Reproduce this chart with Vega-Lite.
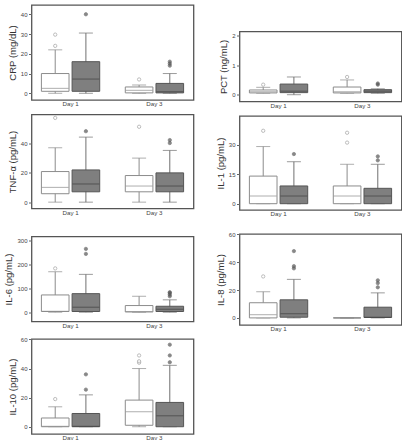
{"$schema":"https://vega.github.io/schema/vega-lite/v6.json",
"padding":{"left":2.5,"top":4,"right":0,"bottom":0},
"config":{"font":"Liberation Sans","view":{"stroke":"#555555","strokeWidth":1.3},
"axis":{"domain":false,"grid":false,"tickColor":"#666666","labelColor":"#444444","titleColor":"#333333","labelFontSize":6,"titleFontSize":9.5,"titleFontWeight":"normal","tickSize":3,"labelPadding":1.5,"titlePadding":3,"minExtent":0,"labelOverlap":false,"labelFlush":false},
"axisX":{"ticks":false,"labelFontSize":6.2,"labelPadding":0.5}},
"datasets":{
"box":[
{"panel":"CRP","day":"Day 1","grp":"A","lo":0,"q1":1,"med":2.5,"q3":10,"hi":22},
{"panel":"CRP","day":"Day 1","grp":"B","lo":0,"q1":1,"med":7.2,"q3":16,"hi":30.5},
{"panel":"CRP","day":"Day 3","grp":"A","lo":0,"q1":0.2,"med":1.5,"q3":3.2,"hi":4.2},
{"panel":"CRP","day":"Day 3","grp":"B","lo":0,"q1":0.2,"med":0.8,"q3":5,"hi":10},
{"panel":"PCT","day":"Day 1","grp":"A","lo":0.05,"q1":0.06,"med":0.1,"q3":0.16,"hi":0.25},
{"panel":"PCT","day":"Day 1","grp":"B","lo":0,"q1":0.07,"med":0.12,"q3":0.36,"hi":0.6},
{"panel":"PCT","day":"Day 3","grp":"A","lo":0.05,"q1":0.06,"med":0.1,"q3":0.26,"hi":0.5},
{"panel":"PCT","day":"Day 3","grp":"B","lo":0.05,"q1":0.07,"med":0.12,"q3":0.17,"hi":0.2},
{"panel":"TNF","day":"Day 1","grp":"A","lo":0,"q1":5.7,"med":10,"q3":20.7,"hi":36.8},
{"panel":"TNF","day":"Day 1","grp":"B","lo":0,"q1":7,"med":12.3,"q3":21.8,"hi":44},
{"panel":"TNF","day":"Day 3","grp":"A","lo":0,"q1":7,"med":10.9,"q3":18,"hi":29.8},
{"panel":"TNF","day":"Day 3","grp":"B","lo":0,"q1":7,"med":10.9,"q3":19.8,"hi":35},
{"panel":"IL1","day":"Day 1","grp":"A","lo":0,"q1":0,"med":3.9,"q3":14,"hi":29},
{"panel":"IL1","day":"Day 1","grp":"B","lo":0,"q1":0,"med":3.9,"q3":9,"hi":21.3},
{"panel":"IL1","day":"Day 3","grp":"A","lo":0,"q1":0,"med":3.9,"q3":9,"hi":20},
{"panel":"IL1","day":"Day 3","grp":"B","lo":0,"q1":0,"med":3.9,"q3":7.8,"hi":20},
{"panel":"IL6","day":"Day 1","grp":"A","lo":0,"q1":3,"med":4,"q3":72.5,"hi":170},
{"panel":"IL6","day":"Day 1","grp":"B","lo":0,"q1":3,"med":21,"q3":78,"hi":159},
{"panel":"IL6","day":"Day 3","grp":"A","lo":0,"q1":1,"med":3,"q3":28,"hi":67},
{"panel":"IL6","day":"Day 3","grp":"B","lo":0,"q1":3,"med":12.5,"q3":25,"hi":52},
{"panel":"IL8","day":"Day 1","grp":"A","lo":0,"q1":0,"med":2.3,"q3":10.9,"hi":18.8},
{"panel":"IL8","day":"Day 1","grp":"B","lo":0,"q1":0.5,"med":3,"q3":13,"hi":27.7},
{"panel":"IL8","day":"Day 3","grp":"A","lo":0,"q1":0,"med":0,"q3":0,"hi":0},
{"panel":"IL8","day":"Day 3","grp":"B","lo":0,"q1":0.3,"med":0.5,"q3":7.7,"hi":18},
{"panel":"IL10","day":"Day 1","grp":"A","lo":0,"q1":0,"med":0.3,"q3":6,"hi":13.7},
{"panel":"IL10","day":"Day 1","grp":"B","lo":0,"q1":0,"med":0.3,"q3":9.1,"hi":21.9},
{"panel":"IL10","day":"Day 3","grp":"A","lo":0,"q1":1,"med":10.3,"q3":18.3,"hi":40},
{"panel":"IL10","day":"Day 3","grp":"B","lo":0,"q1":0,"med":7.5,"q3":16.7,"hi":42.2}
],
"out":[
{"panel":"CRP","day":"Day 1","grp":"A","v":24},
{"panel":"CRP","day":"Day 1","grp":"A","v":29.7},
{"panel":"CRP","day":"Day 1","grp":"B","v":40},
{"panel":"CRP","day":"Day 3","grp":"A","v":7},
{"panel":"CRP","day":"Day 3","grp":"B","v":14},
{"panel":"CRP","day":"Day 3","grp":"B","v":15},
{"panel":"CRP","day":"Day 3","grp":"B","v":16},
{"panel":"PCT","day":"Day 1","grp":"A","v":0.34},
{"panel":"PCT","day":"Day 3","grp":"A","v":0.6},
{"panel":"PCT","day":"Day 3","grp":"B","v":0.34},
{"panel":"PCT","day":"Day 3","grp":"B","v":0.38},
{"panel":"TNF","day":"Day 1","grp":"A","v":57},
{"panel":"TNF","day":"Day 1","grp":"B","v":48},
{"panel":"TNF","day":"Day 3","grp":"A","v":51},
{"panel":"TNF","day":"Day 3","grp":"B","v":40},
{"panel":"TNF","day":"Day 3","grp":"B","v":42},
{"panel":"IL1","day":"Day 1","grp":"A","v":37},
{"panel":"IL1","day":"Day 1","grp":"B","v":25.2},
{"panel":"IL1","day":"Day 3","grp":"A","v":31},
{"panel":"IL1","day":"Day 3","grp":"A","v":36},
{"panel":"IL1","day":"Day 3","grp":"B","v":22},
{"panel":"IL1","day":"Day 3","grp":"B","v":24},
{"panel":"IL6","day":"Day 1","grp":"A","v":184},
{"panel":"IL6","day":"Day 1","grp":"B","v":245},
{"panel":"IL6","day":"Day 1","grp":"B","v":266},
{"panel":"IL6","day":"Day 3","grp":"B","v":67},
{"panel":"IL6","day":"Day 3","grp":"B","v":74},
{"panel":"IL6","day":"Day 3","grp":"B","v":81},
{"panel":"IL6","day":"Day 3","grp":"B","v":84},
{"panel":"IL8","day":"Day 1","grp":"A","v":29.8},
{"panel":"IL8","day":"Day 1","grp":"B","v":35.6},
{"panel":"IL8","day":"Day 1","grp":"B","v":37.2},
{"panel":"IL8","day":"Day 1","grp":"B","v":48},
{"panel":"IL8","day":"Day 3","grp":"B","v":22},
{"panel":"IL8","day":"Day 3","grp":"B","v":25},
{"panel":"IL8","day":"Day 3","grp":"B","v":27},
{"panel":"IL10","day":"Day 1","grp":"A","v":19},
{"panel":"IL10","day":"Day 1","grp":"B","v":25.5},
{"panel":"IL10","day":"Day 1","grp":"B","v":36},
{"panel":"IL10","day":"Day 3","grp":"A","v":44},
{"panel":"IL10","day":"Day 3","grp":"A","v":45},
{"panel":"IL10","day":"Day 3","grp":"A","v":49},
{"panel":"IL10","day":"Day 3","grp":"B","v":44.3},
{"panel":"IL10","day":"Day 3","grp":"B","v":49},
{"panel":"IL10","day":"Day 3","grp":"B","v":56.4}
]},
"spacing":20,
"hconcat":[
{"spacing":5.5,"vconcat":[
{"width":162,"height":95,"encoding":{"x":{"field":"day","type":"nominal","scale":{"domain":["Day 1","Day 3"],"paddingInner":0.305,"paddingOuter":0.118},"axis":{"title":null,"labelAngle":0}},"xOffset":{"field":"grp","type":"nominal","scale":{"domain":["A","B"],"paddingInner":0.1,"paddingOuter":0}}},
"layer":[
{"data":{"name":"box"},"transform":[{"filter":"datum.panel==='CRP'"}],"mark":{"type":"rule","strokeWidth":1},"encoding":{"y":{"field":"lo","type":"quantitative","title":"CRP (mg/dL)","scale":{"domain":[-3.4,44.7],"nice":false,"zero":false},"axis":{"values":[0,10,20,30,40]}},"y2":{"field":"hi"},"color":{"condition":{"test":"datum.grp==='A'","value":"#8c8c8c"},"value":"#707070"}}},
{"data":{"name":"box"},"transform":[{"filter":"datum.panel==='CRP'"},{"fold":["lo","hi"],"as":["k","cap"]}],"mark":{"type":"tick","size":14,"thickness":1},"encoding":{"y":{"field":"cap","type":"quantitative","title":"CRP (mg/dL)","axis":{"values":[0,10,20,30,40]}},"color":{"condition":{"test":"datum.grp==='A'","value":"#8c8c8c"},"value":"#707070"}}},
{"data":{"name":"box"},"transform":[{"filter":"datum.panel==='CRP'"}],"mark":{"type":"bar","strokeWidth":1},"encoding":{"y":{"field":"q1","type":"quantitative","title":"CRP (mg/dL)","axis":{"values":[0,10,20,30,40]}},"y2":{"field":"q3"},"fill":{"condition":{"test":"datum.grp==='A'","value":"#ffffff"},"value":"#7f7f7f"},"stroke":{"condition":{"test":"datum.grp==='A'","value":"#8c8c8c"},"value":"#555555"}}},
{"data":{"name":"box"},"transform":[{"filter":"datum.panel==='CRP'"}],"mark":{"type":"tick","size":27,"thickness":1},"encoding":{"y":{"field":"med","type":"quantitative","title":"CRP (mg/dL)","axis":{"values":[0,10,20,30,40]}},"color":{"condition":{"test":"datum.grp==='A'","value":"#8c8c8c"},"value":"#404040"}}},
{"data":{"name":"out"},"transform":[{"filter":"datum.panel==='CRP'"}],"mark":{"type":"point","shape":"circle","filled":true,"size":11,"strokeWidth":0.8},"encoding":{"y":{"field":"v","type":"quantitative","title":"CRP (mg/dL)","axis":{"values":[0,10,20,30,40]}},"fill":{"condition":{"test":"datum.grp==='A'","value":"#ffffff"},"value":"#555555"},"stroke":{"condition":{"test":"datum.grp==='A'","value":"#8c8c8c"},"value":"#555555"}}}
]},
{"width":162,"height":94,"encoding":{"x":{"field":"day","type":"nominal","scale":{"domain":["Day 1","Day 3"],"paddingInner":0.305,"paddingOuter":0.118},"axis":{"title":null,"labelAngle":0}},"xOffset":{"field":"grp","type":"nominal","scale":{"domain":["A","B"],"paddingInner":0.1,"paddingOuter":0}}},
"layer":[
{"data":{"name":"box"},"transform":[{"filter":"datum.panel==='TNF'"}],"mark":{"type":"rule","strokeWidth":1},"encoding":{"y":{"field":"lo","type":"quantitative","title":"TNF-α (pg/mL)","scale":{"domain":[-4.3,59.3],"nice":false,"zero":false},"axis":{"values":[0,20,40]}},"y2":{"field":"hi"},"color":{"condition":{"test":"datum.grp==='A'","value":"#8c8c8c"},"value":"#707070"}}},
{"data":{"name":"box"},"transform":[{"filter":"datum.panel==='TNF'"},{"fold":["lo","hi"],"as":["k","cap"]}],"mark":{"type":"tick","size":14,"thickness":1},"encoding":{"y":{"field":"cap","type":"quantitative","title":"TNF-α (pg/mL)","axis":{"values":[0,20,40]}},"color":{"condition":{"test":"datum.grp==='A'","value":"#8c8c8c"},"value":"#707070"}}},
{"data":{"name":"box"},"transform":[{"filter":"datum.panel==='TNF'"}],"mark":{"type":"bar","strokeWidth":1},"encoding":{"y":{"field":"q1","type":"quantitative","title":"TNF-α (pg/mL)","axis":{"values":[0,20,40]}},"y2":{"field":"q3"},"fill":{"condition":{"test":"datum.grp==='A'","value":"#ffffff"},"value":"#7f7f7f"},"stroke":{"condition":{"test":"datum.grp==='A'","value":"#8c8c8c"},"value":"#555555"}}},
{"data":{"name":"box"},"transform":[{"filter":"datum.panel==='TNF'"}],"mark":{"type":"tick","size":27,"thickness":1},"encoding":{"y":{"field":"med","type":"quantitative","title":"TNF-α (pg/mL)","axis":{"values":[0,20,40]}},"color":{"condition":{"test":"datum.grp==='A'","value":"#8c8c8c"},"value":"#404040"}}},
{"data":{"name":"out"},"transform":[{"filter":"datum.panel==='TNF'"}],"mark":{"type":"point","shape":"circle","filled":true,"size":11,"strokeWidth":0.8},"encoding":{"y":{"field":"v","type":"quantitative","title":"TNF-α (pg/mL)","axis":{"values":[0,20,40]}},"fill":{"condition":{"test":"datum.grp==='A'","value":"#ffffff"},"value":"#555555"},"stroke":{"condition":{"test":"datum.grp==='A'","value":"#8c8c8c"},"value":"#555555"}}}
]},
{"width":162,"height":8,"view":{"stroke":null},"data":{"values":[]},"mark":"point","encoding":{}},
{"width":162,"height":85,"encoding":{"x":{"field":"day","type":"nominal","scale":{"domain":["Day 1","Day 3"],"paddingInner":0.305,"paddingOuter":0.118},"axis":{"title":null,"labelAngle":0}},"xOffset":{"field":"grp","type":"nominal","scale":{"domain":["A","B"],"paddingInner":0.1,"paddingOuter":0}}},
"layer":[
{"data":{"name":"box"},"transform":[{"filter":"datum.panel==='IL6'"}],"mark":{"type":"rule","strokeWidth":1},"encoding":{"y":{"field":"lo","type":"quantitative","title":"IL-6 (pg/mL)","scale":{"domain":[-39,318],"nice":false,"zero":false},"axis":{"values":[0,100,200,300]}},"y2":{"field":"hi"},"color":{"condition":{"test":"datum.grp==='A'","value":"#8c8c8c"},"value":"#707070"}}},
{"data":{"name":"box"},"transform":[{"filter":"datum.panel==='IL6'"},{"fold":["lo","hi"],"as":["k","cap"]}],"mark":{"type":"tick","size":14,"thickness":1},"encoding":{"y":{"field":"cap","type":"quantitative","title":"IL-6 (pg/mL)","axis":{"values":[0,100,200,300]}},"color":{"condition":{"test":"datum.grp==='A'","value":"#8c8c8c"},"value":"#707070"}}},
{"data":{"name":"box"},"transform":[{"filter":"datum.panel==='IL6'"}],"mark":{"type":"bar","strokeWidth":1},"encoding":{"y":{"field":"q1","type":"quantitative","title":"IL-6 (pg/mL)","axis":{"values":[0,100,200,300]}},"y2":{"field":"q3"},"fill":{"condition":{"test":"datum.grp==='A'","value":"#ffffff"},"value":"#7f7f7f"},"stroke":{"condition":{"test":"datum.grp==='A'","value":"#8c8c8c"},"value":"#555555"}}},
{"data":{"name":"box"},"transform":[{"filter":"datum.panel==='IL6'"}],"mark":{"type":"tick","size":27,"thickness":1},"encoding":{"y":{"field":"med","type":"quantitative","title":"IL-6 (pg/mL)","axis":{"values":[0,100,200,300]}},"color":{"condition":{"test":"datum.grp==='A'","value":"#8c8c8c"},"value":"#404040"}}},
{"data":{"name":"out"},"transform":[{"filter":"datum.panel==='IL6'"}],"mark":{"type":"point","shape":"circle","filled":true,"size":11,"strokeWidth":0.8},"encoding":{"y":{"field":"v","type":"quantitative","title":"IL-6 (pg/mL)","axis":{"values":[0,100,200,300]}},"fill":{"condition":{"test":"datum.grp==='A'","value":"#ffffff"},"value":"#555555"},"stroke":{"condition":{"test":"datum.grp==='A'","value":"#8c8c8c"},"value":"#555555"}}}
]},
{"width":162,"height":95,"encoding":{"x":{"field":"day","type":"nominal","scale":{"domain":["Day 1","Day 3"],"paddingInner":0.305,"paddingOuter":0.118},"axis":{"title":null,"labelAngle":0}},"xOffset":{"field":"grp","type":"nominal","scale":{"domain":["A","B"],"paddingInner":0.1,"paddingOuter":0}}},
"layer":[
{"data":{"name":"box"},"transform":[{"filter":"datum.panel==='IL10'"}],"mark":{"type":"rule","strokeWidth":1},"encoding":{"y":{"field":"lo","type":"quantitative","title":"IL-10 (pg/mL)","scale":{"domain":[-5,60.3],"nice":false,"zero":false},"axis":{"values":[0,20,40,60]}},"y2":{"field":"hi"},"color":{"condition":{"test":"datum.grp==='A'","value":"#8c8c8c"},"value":"#707070"}}},
{"data":{"name":"box"},"transform":[{"filter":"datum.panel==='IL10'"},{"fold":["lo","hi"],"as":["k","cap"]}],"mark":{"type":"tick","size":14,"thickness":1},"encoding":{"y":{"field":"cap","type":"quantitative","title":"IL-10 (pg/mL)","axis":{"values":[0,20,40,60]}},"color":{"condition":{"test":"datum.grp==='A'","value":"#8c8c8c"},"value":"#707070"}}},
{"data":{"name":"box"},"transform":[{"filter":"datum.panel==='IL10'"}],"mark":{"type":"bar","strokeWidth":1},"encoding":{"y":{"field":"q1","type":"quantitative","title":"IL-10 (pg/mL)","axis":{"values":[0,20,40,60]}},"y2":{"field":"q3"},"fill":{"condition":{"test":"datum.grp==='A'","value":"#ffffff"},"value":"#7f7f7f"},"stroke":{"condition":{"test":"datum.grp==='A'","value":"#8c8c8c"},"value":"#555555"}}},
{"data":{"name":"box"},"transform":[{"filter":"datum.panel==='IL10'"}],"mark":{"type":"tick","size":27,"thickness":1},"encoding":{"y":{"field":"med","type":"quantitative","title":"IL-10 (pg/mL)","axis":{"values":[0,20,40,60]}},"color":{"condition":{"test":"datum.grp==='A'","value":"#8c8c8c"},"value":"#404040"}}},
{"data":{"name":"out"},"transform":[{"filter":"datum.panel==='IL10'"}],"mark":{"type":"point","shape":"circle","filled":true,"size":11,"strokeWidth":0.8},"encoding":{"y":{"field":"v","type":"quantitative","title":"IL-10 (pg/mL)","axis":{"values":[0,20,40,60]}},"fill":{"condition":{"test":"datum.grp==='A'","value":"#ffffff"},"value":"#555555"},"stroke":{"condition":{"test":"datum.grp==='A'","value":"#8c8c8c"},"value":"#555555"}}}
]}
]},
{"spacing":5.5,"vconcat":[
{"width":162,"height":20,"view":{"stroke":null},"data":{"values":[]},"mark":"point","encoding":{}},
{"width":162,"height":70,"encoding":{"x":{"field":"day","type":"nominal","scale":{"domain":["Day 1","Day 3"],"paddingInner":0.305,"paddingOuter":0.118},"axis":{"title":null,"labelAngle":0}},"xOffset":{"field":"grp","type":"nominal","scale":{"domain":["A","B"],"paddingInner":0.1,"paddingOuter":0}}},
"layer":[
{"data":{"name":"box"},"transform":[{"filter":"datum.panel==='PCT'"}],"mark":{"type":"rule","strokeWidth":1},"encoding":{"y":{"field":"lo","type":"quantitative","title":"PCT (ng/mL)","scale":{"domain":[-0.23,2.14],"nice":false,"zero":false},"axis":{"values":[0,1,2]}},"y2":{"field":"hi"},"color":{"condition":{"test":"datum.grp==='A'","value":"#8c8c8c"},"value":"#707070"}}},
{"data":{"name":"box"},"transform":[{"filter":"datum.panel==='PCT'"},{"fold":["lo","hi"],"as":["k","cap"]}],"mark":{"type":"tick","size":14,"thickness":1},"encoding":{"y":{"field":"cap","type":"quantitative","title":"PCT (ng/mL)","axis":{"values":[0,1,2]}},"color":{"condition":{"test":"datum.grp==='A'","value":"#8c8c8c"},"value":"#707070"}}},
{"data":{"name":"box"},"transform":[{"filter":"datum.panel==='PCT'"}],"mark":{"type":"bar","strokeWidth":1},"encoding":{"y":{"field":"q1","type":"quantitative","title":"PCT (ng/mL)","axis":{"values":[0,1,2]}},"y2":{"field":"q3"},"fill":{"condition":{"test":"datum.grp==='A'","value":"#ffffff"},"value":"#7f7f7f"},"stroke":{"condition":{"test":"datum.grp==='A'","value":"#8c8c8c"},"value":"#555555"}}},
{"data":{"name":"box"},"transform":[{"filter":"datum.panel==='PCT'"}],"mark":{"type":"tick","size":27,"thickness":1},"encoding":{"y":{"field":"med","type":"quantitative","title":"PCT (ng/mL)","axis":{"values":[0,1,2]}},"color":{"condition":{"test":"datum.grp==='A'","value":"#8c8c8c"},"value":"#404040"}}},
{"data":{"name":"out"},"transform":[{"filter":"datum.panel==='PCT'"}],"mark":{"type":"point","shape":"circle","filled":true,"size":11,"strokeWidth":0.8},"encoding":{"y":{"field":"v","type":"quantitative","title":"PCT (ng/mL)","axis":{"values":[0,1,2]}},"fill":{"condition":{"test":"datum.grp==='A'","value":"#ffffff"},"value":"#555555"},"stroke":{"condition":{"test":"datum.grp==='A'","value":"#8c8c8c"},"value":"#555555"}}}
]},
{"width":162,"height":94,"encoding":{"x":{"field":"day","type":"nominal","scale":{"domain":["Day 1","Day 3"],"paddingInner":0.305,"paddingOuter":0.118},"axis":{"title":null,"labelAngle":0}},"xOffset":{"field":"grp","type":"nominal","scale":{"domain":["A","B"],"paddingInner":0.1,"paddingOuter":0}}},
"layer":[
{"data":{"name":"box"},"transform":[{"filter":"datum.panel==='IL1'"}],"mark":{"type":"rule","strokeWidth":1},"encoding":{"y":{"field":"lo","type":"quantitative","title":"IL-1 (pg/mL)","scale":{"domain":[-3.2,44.5],"nice":false,"zero":false},"axis":{"values":[0,15,30]}},"y2":{"field":"hi"},"color":{"condition":{"test":"datum.grp==='A'","value":"#8c8c8c"},"value":"#707070"}}},
{"data":{"name":"box"},"transform":[{"filter":"datum.panel==='IL1'"},{"fold":["lo","hi"],"as":["k","cap"]}],"mark":{"type":"tick","size":14,"thickness":1},"encoding":{"y":{"field":"cap","type":"quantitative","title":"IL-1 (pg/mL)","axis":{"values":[0,15,30]}},"color":{"condition":{"test":"datum.grp==='A'","value":"#8c8c8c"},"value":"#707070"}}},
{"data":{"name":"box"},"transform":[{"filter":"datum.panel==='IL1'"}],"mark":{"type":"bar","strokeWidth":1},"encoding":{"y":{"field":"q1","type":"quantitative","title":"IL-1 (pg/mL)","axis":{"values":[0,15,30]}},"y2":{"field":"q3"},"fill":{"condition":{"test":"datum.grp==='A'","value":"#ffffff"},"value":"#7f7f7f"},"stroke":{"condition":{"test":"datum.grp==='A'","value":"#8c8c8c"},"value":"#555555"}}},
{"data":{"name":"box"},"transform":[{"filter":"datum.panel==='IL1'"}],"mark":{"type":"tick","size":27,"thickness":1},"encoding":{"y":{"field":"med","type":"quantitative","title":"IL-1 (pg/mL)","axis":{"values":[0,15,30]}},"color":{"condition":{"test":"datum.grp==='A'","value":"#8c8c8c"},"value":"#404040"}}},
{"data":{"name":"out"},"transform":[{"filter":"datum.panel==='IL1'"}],"mark":{"type":"point","shape":"circle","filled":true,"size":11,"strokeWidth":0.8},"encoding":{"y":{"field":"v","type":"quantitative","title":"IL-1 (pg/mL)","axis":{"values":[0,15,30]}},"fill":{"condition":{"test":"datum.grp==='A'","value":"#ffffff"},"value":"#555555"},"stroke":{"condition":{"test":"datum.grp==='A'","value":"#8c8c8c"},"value":"#555555"}}}
]},
{"width":162,"height":0.5,"view":{"stroke":null},"data":{"values":[]},"mark":"point","encoding":{}},
{"width":162,"height":91,"encoding":{"x":{"field":"day","type":"nominal","scale":{"domain":["Day 1","Day 3"],"paddingInner":0.305,"paddingOuter":0.118},"axis":{"title":null,"labelAngle":0}},"xOffset":{"field":"grp","type":"nominal","scale":{"domain":["A","B"],"paddingInner":0.1,"paddingOuter":0}}},
"layer":[
{"data":{"name":"box"},"transform":[{"filter":"datum.panel==='IL8'"}],"mark":{"type":"rule","strokeWidth":1},"encoding":{"y":{"field":"lo","type":"quantitative","title":"IL-8 (pg/mL)","scale":{"domain":[-5.1,60.3],"nice":false,"zero":false},"axis":{"values":[0,20,40,60]}},"y2":{"field":"hi"},"color":{"condition":{"test":"datum.grp==='A'","value":"#8c8c8c"},"value":"#707070"}}},
{"data":{"name":"box"},"transform":[{"filter":"datum.panel==='IL8'"},{"fold":["lo","hi"],"as":["k","cap"]}],"mark":{"type":"tick","size":14,"thickness":1},"encoding":{"y":{"field":"cap","type":"quantitative","title":"IL-8 (pg/mL)","axis":{"values":[0,20,40,60]}},"color":{"condition":{"test":"datum.grp==='A'","value":"#8c8c8c"},"value":"#707070"}}},
{"data":{"name":"box"},"transform":[{"filter":"datum.panel==='IL8'"}],"mark":{"type":"bar","strokeWidth":1},"encoding":{"y":{"field":"q1","type":"quantitative","title":"IL-8 (pg/mL)","axis":{"values":[0,20,40,60]}},"y2":{"field":"q3"},"fill":{"condition":{"test":"datum.grp==='A'","value":"#ffffff"},"value":"#7f7f7f"},"stroke":{"condition":{"test":"datum.grp==='A'","value":"#8c8c8c"},"value":"#555555"}}},
{"data":{"name":"box"},"transform":[{"filter":"datum.panel==='IL8'"}],"mark":{"type":"tick","size":27,"thickness":1},"encoding":{"y":{"field":"med","type":"quantitative","title":"IL-8 (pg/mL)","axis":{"values":[0,20,40,60]}},"color":{"condition":{"test":"datum.grp==='A'","value":"#8c8c8c"},"value":"#404040"}}},
{"data":{"name":"out"},"transform":[{"filter":"datum.panel==='IL8'"}],"mark":{"type":"point","shape":"circle","filled":true,"size":11,"strokeWidth":0.8},"encoding":{"y":{"field":"v","type":"quantitative","title":"IL-8 (pg/mL)","axis":{"values":[0,20,40,60]}},"fill":{"condition":{"test":"datum.grp==='A'","value":"#ffffff"},"value":"#555555"},"stroke":{"condition":{"test":"datum.grp==='A'","value":"#8c8c8c"},"value":"#555555"}}}
]}
]}
]}
